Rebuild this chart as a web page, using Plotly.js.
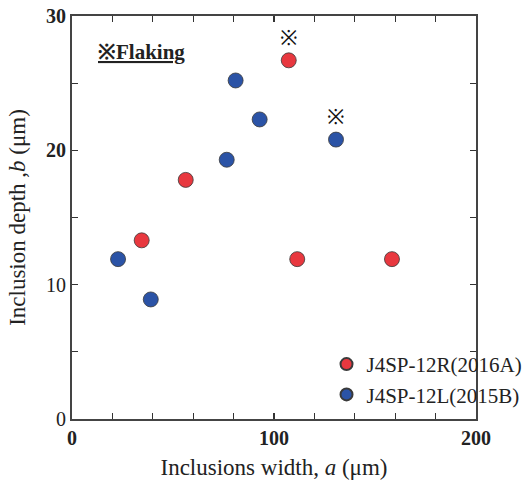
<!DOCTYPE html>
<html>
<head>
<meta charset="utf-8">
<script src="https://cdn.plot.ly/plotly-3.0.1.min.js"></script>
<style>html,body{margin:0;padding:0;background:#fff;}#chart{width:530px;height:480px;}</style>
</head>
<body>
<div id="chart"></div>
<script>
// Series: J4SP-12R(2016A)
const redName = 'J4SP-12R(2016A)';
const redX = [34.5, 56.3, 107.3, 111.5, 158.4];
const redY = [13.3, 17.8, 26.7, 11.9, 11.9];
const redMark = ['', '', '※', '', ''];

// Series: J4SP-12L(2015B)
const blueName = 'J4SP-12L(2015B)';
const blueX = [22.8, 39.0, 76.6, 81.0, 92.9, 130.7];
const blueY = [11.9, 8.9, 19.3, 25.2, 22.3, 20.8];
const blueMark = ['', '', '', '', '', '※'];

// Ticks
const xTickVals = [0, 20, 40, 60, 80, 100, 120, 140, 160, 180, 200];
const xTickText = ['<b>0</b>', '', '', '', '', '<b>100</b>', '', '', '', '', '<b>200</b>'];
const yTickVals = [0, 5, 10, 15, 20, 25, 30];
const yTickText = ['0', '', '10', '', '<b>20</b>', '', '<b>30</b>'];

const noteText = '<b><u>※Flaking</u></b>';
const xTitle = 'Inclusions width, <i>a</i> (μm)';
const yTitle = 'Inclusion depth ,<i>b</i> (μm)';

const serif = 'Liberation Serif';
const markerLine = {color: '#3a3a3a', width: 0.8};

const traces = [
  {
    type: 'scatter', mode: 'markers+text', name: redName,
    x: redX, y: redY, text: redMark, textposition: 'top center',
    textfont: {family: 'DejaVu Serif', size: 21, color: '#111'},
    marker: {size: 15, color: '#e8383f', line: markerLine},
    cliponaxis: false
  },
  {
    type: 'scatter', mode: 'markers+text', name: blueName,
    x: blueX, y: blueY, text: blueMark, textposition: 'top center',
    textfont: {family: 'DejaVu Serif', size: 21, color: '#111'},
    marker: {size: 15, color: '#2b53a6', line: markerLine},
    cliponaxis: false
  }
];

const axisCommon = {
  showgrid: false, zeroline: false, showline: true, linecolor: '#444', linewidth: 2,
  mirror: 'ticks', ticks: 'inside', ticklen: 6, tickwidth: 1.2, tickcolor: '#333',
  tickfont: {family: serif, size: 20, color: '#222'}, tickmode: 'array'
};

const layout = {
  width: 530, height: 480,
  margin: {l: 72, r: 54, t: 16, b: 61, autoexpand: false},
  paper_bgcolor: '#fff', plot_bgcolor: '#fff',
  font: {family: serif, color: '#222'},
  xaxis: Object.assign({}, axisCommon, {
    range: [0, 200], tickvals: xTickVals, ticktext: xTickText,
    title: {text: xTitle, font: {family: serif, size: 23, color: '#222'}, standoff: 12}
  }),
  yaxis: Object.assign({}, axisCommon, {
    range: [0, 30], tickvals: yTickVals, ticktext: yTickText,
    title: {text: yTitle, font: {family: serif, size: 23, color: '#222'}, standoff: 14}
  }),
  showlegend: true,
  legend: {
    x: 0.63, y: 0.01, xanchor: 'left', yanchor: 'bottom',
    bgcolor: 'rgba(0,0,0,0)', font: {family: serif, size: 21, color: '#222'},
    itemsizing: 'constant', tracegroupgap: 0
  },
  annotations: [
    {
      xref: 'paper', yref: 'paper', x: 0.06, y: 0.91, xanchor: 'left', yanchor: 'middle',
      text: noteText, showarrow: false, font: {family: serif, size: 21, color: '#222'}
    }
  ]
};

Plotly.newPlot('chart', traces, layout, {displayModeBar: false, staticPlot: true});
</script>
</body>
</html>
